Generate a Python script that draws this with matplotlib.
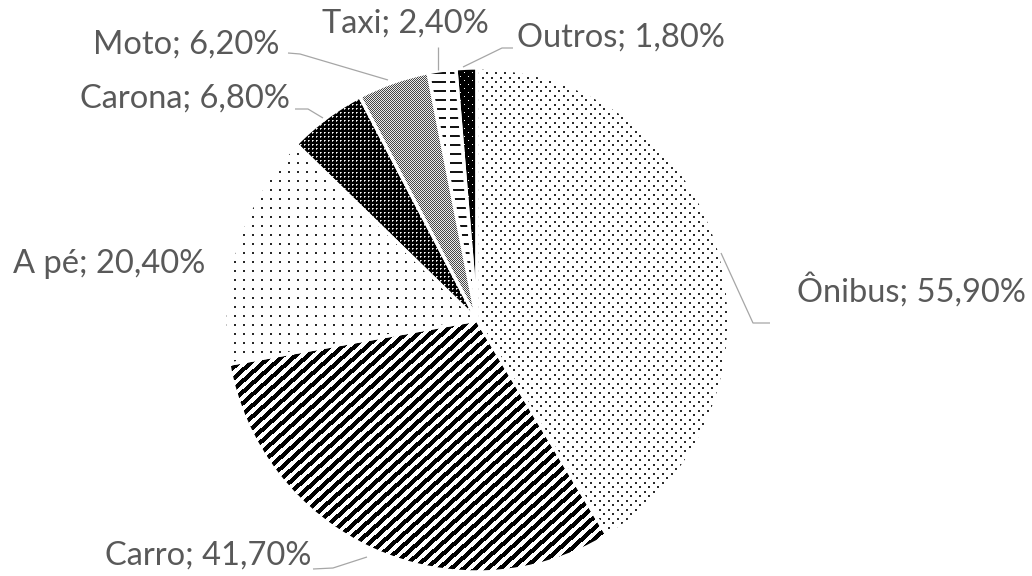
import numpy as np
import matplotlib
matplotlib.use("Agg")
import matplotlib.pyplot as plt

# Modal split of trips (percent of respondents; multiple answers allowed)
categories = ["Ônibus", "Carro", "A pé", "Carona", "Moto", "Taxi", "Outros"]
values = [55.9, 41.7, 20.4, 6.8, 6.2, 2.4, 1.8]

W, H = 1032, 576
fig = plt.figure(figsize=(W / 100, H / 100), dpi=100)
ax = fig.add_axes([0, 0, 1, 1])

# y axis runs downward, so counterclockwise in data space reads clockwise on screen
wedges, _ = ax.pie(values, center=(477, 320), radius=252, startangle=-90,
                   counterclock=True,
                   wedgeprops=dict(facecolor="none", edgecolor="white",
                                   linewidth=2.4, zorder=3))

# ---- monochrome fill textures, one pixel per array cell ----
r, c = np.indices((H, W))


def dots_staggered(period_c, period_r, value):
    a = np.full((H, W), 255.0)
    m1 = ((r % period_r) < 2) & ((c % period_c) < 2)
    m2 = (((r + period_r // 2) % period_r) < 2) & (((c + period_c // 2) % period_c) < 2)
    a[m1 | m2] = value
    return a


def dots_square(period, value):
    a = np.full((H, W), 255.0)
    a[((r % period) < 2) & ((c % period) < 2)] = value
    return a


def stripes(angle_deg, period, width):
    t = np.deg2rad(angle_deg)
    u = c * np.sin(t) + r * np.cos(t)
    a = np.full((H, W), 255.0)
    a[(u % period) < width] = 0
    return a


def dark_grid():
    a = np.zeros((H, W))
    a[((r % 4) == 0) & ((c % 4) == 0)] = 255
    a[((r % 4) == 0) & ((c % 4) == 1)] = 170
    a[((r % 4) == 1) & ((c % 4) == 0)] = 170
    return a


def gray_checker():
    a = np.where(((r + c) % 2) == 0, 70.0, 235.0)
    return a


def dashes():
    a = np.full((H, W), 255.0)
    a[((r % 9) < 2) & ((c % 30) < 26)] = 20
    return a


def black_sparse():
    a = np.full((H, W), 0.0)
    a[((r % 8) == 0) & ((c % 8) == 0)] = 255
    a[((r % 8) == 4) & ((c % 8) == 4)] = 255
    return a


textures = [
    dots_staggered(9, 9, 45),   # Ônibus
    stripes(42, 8.2, 4.3),      # Carro
    dots_square(9, 40),         # A pé
    dark_grid(),                # Carona
    gray_checker(),             # Moto
    dashes(),                   # Taxi
    black_sparse(),             # Outros
]

for wedge, tex in zip(wedges, textures):
    im = ax.imshow(tex, cmap="gray", vmin=0, vmax=255, extent=(0, W, H, 0),
                   interpolation="nearest", zorder=1)
    im.set_clip_path(wedge)

ax.set_xlim(0, W)
ax.set_ylim(H, 0)
ax.set_aspect("auto")
ax.axis("off")

# ---- data labels with leader lines ----
text_color = "#595959"
line_color = "#a6a6a6"
label_pos = {
    "Ônibus": (797, 302),
    "Carro": (105, 565),
    "A pé": (13, 273),
    "Carona": (80, 108),
    "Moto": (93, 54),
    "Taxi": (322, 33),
    "Outros": (517, 47),
}
leaders = {
    "Ônibus": [(721, 253), (753, 323), (770, 323)],
    "Carro": [(313, 569), (333, 568), (367, 557)],
    "Carona": [(295, 109), (308, 109), (323, 118)],
    "Moto": [(288, 53), (300, 54), (388, 80)],
    "Taxi": [(438, 47), (438, 70)],
    "Outros": [(513, 48), (502, 48), (463, 67)],
}

for name, v in zip(categories, values):
    x, y = label_pos[name]
    txt = f"{name}; {v:.2f}".replace(".", ",") + "%"
    ax.text(x, y, txt, ha="left", va="baseline", fontsize=23.5,
            family="Lato", color=text_color, zorder=5)
    if name in leaders:
        xs, ys = zip(*leaders[name])
        ax.plot(xs, ys, color=line_color, linewidth=0.9, zorder=4,
                solid_capstyle="butt")

fig.savefig("out.png", dpi=100, facecolor="white")
